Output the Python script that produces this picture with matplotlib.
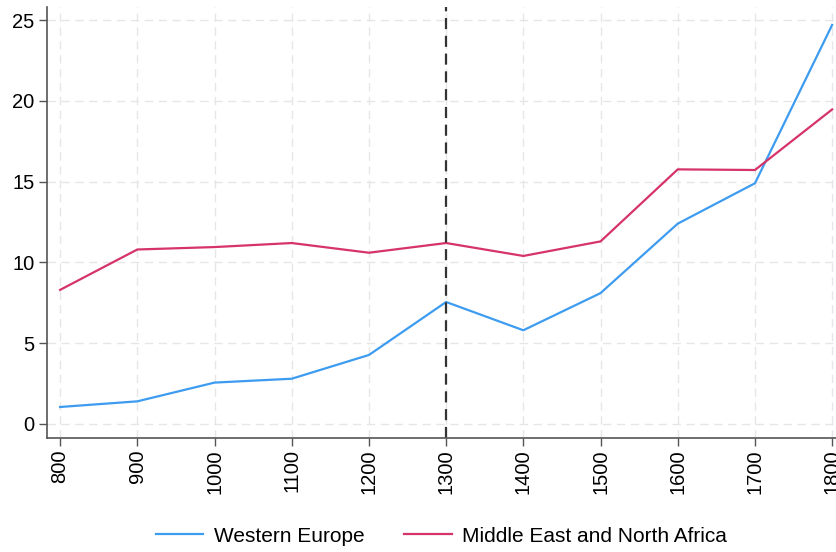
import matplotlib
matplotlib.use("Agg")
import matplotlib.pyplot as plt

years = [800, 900, 1000, 1100, 1200, 1300, 1400, 1500, 1600, 1700, 1800]
western_europe = [1.05, 1.4, 2.56, 2.8, 4.27, 7.55, 5.8, 8.1, 12.4, 14.9, 24.7]
mena = [8.3, 10.8, 10.95, 11.2, 10.6, 11.2, 10.4, 11.3, 15.76, 15.72, 19.47]
yticks = [0, 5, 10, 15, 20, 25]
labels = ["Western Europe", "Middle East and North Africa"]
cutoff_year = 1300

plt.rcParams['font.family'] = ['Liberation Sans', 'DejaVu Sans']

fig = plt.figure(figsize=(8.36, 5.52), dpi=100)
ax = fig.add_axes([0.0562, 0.2065, 0.9438, 0.7805])

ax.plot(years, western_europe, color='#3d9cf0', lw=1.6, label=labels[0])
ax.plot(years, mena, color='#d6336b', lw=1.6, label=labels[1])
ax.axvline(cutoff_year, color='#333333', lw=1.6, ls=(0, (5, 3)))

ax.set_xlim(783, 1805)
ax.set_ylim(-0.87, 25.8)
ax.set_xticks(years)
ax.set_xticklabels([str(y) for y in years], rotation=90)
ax.set_yticks(yticks)

ax.grid(True, color='#e6e6e6', ls=(0, (6, 4)), lw=1.0)
ax.set_axisbelow(True)
for s in ['top', 'right']:
    ax.spines[s].set_visible(False)
for s in ['left', 'bottom']:
    ax.spines[s].set_color('#555555')
    ax.spines[s].set_linewidth(1.2)
ax.tick_params(axis='both', labelsize=14.5, color='#555555', length=6, width=1.0)
ax.tick_params(axis='y', pad=3)
ax.tick_params(axis='x', pad=2)

fig.legend(loc='center', bbox_to_anchor=(0.528, 1 - 536 / 552), ncol=2, frameon=False,
           fontsize=15, handlelength=2.3, handletextpad=0.5, columnspacing=1.9,
           borderpad=0, borderaxespad=0)

fig.savefig('out.png', dpi=100)
